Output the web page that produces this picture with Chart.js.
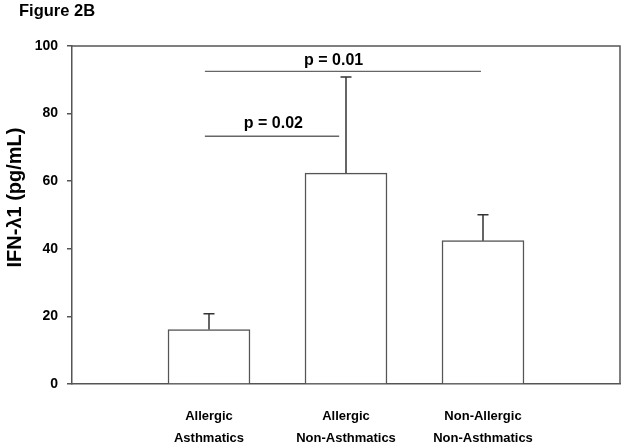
<!DOCTYPE html>
<html>
<head>
<meta charset="utf-8">
<script src="https://cdn.jsdelivr.net/npm/chart.js@4"></script>
<style>
  html, body { margin: 0; padding: 0; background: #fff; overflow: hidden; }
  #wrap { width: 624px; height: 448px; position: relative; }
  canvas { display: block; }
</style>
</head>
<body>
<div id="wrap"><canvas id="figura"></canvas></div>
<script>
const categories = [
  ["Allergic", "Asthmatics"],
  ["Allergic", "Non-Asthmatics"],
  ["Non-Allergic", "Non-Asthmatics"],
];
const means = [16.1, 62.4, 42.4];
const errors = [4.7, 28.4, 7.7];
const yTicks = [0, 20, 40, 60, 80, 100];
// significance brackets (category index units, y in pg/mL)
const comparisons = [
  { from: 0.97, to: 1.95, y: 73.3, label: "p = 0.02", labelX: 1.47, labelY: 75.8 },
  { from: 0.97, to: 2.985, y: 92.5, label: "p = 0.01", labelX: 1.91, labelY: 94.4 },
];

const FONT = "'Liberation Sans', Arial, sans-serif";
const LINE = "#555";

const extras = {
  id: "extras",
  afterDatasetsDraw(chart) {
    const { ctx, chartArea: a, scales: { x, y } } = chart;
    ctx.save();

    // error bars (upper only)
    ctx.strokeStyle = "#333";
    ctx.lineWidth = 1.5;
    means.forEach((m, i) => {
      const px = x.getPixelForValue(i + 1);
      const top = y.getPixelForValue(m + errors[i]);
      ctx.beginPath();
      ctx.moveTo(px, y.getPixelForValue(m));
      ctx.lineTo(px, top);
      ctx.moveTo(px - 5.5, top);
      ctx.lineTo(px + 5.5, top);
      ctx.stroke();
    });

    // brackets + p values
    ctx.strokeStyle = "#666";
    ctx.lineWidth = 1.3;
    ctx.fillStyle = "#000";
    ctx.font = "bold 16px " + FONT;
    ctx.textAlign = "center";
    ctx.textBaseline = "alphabetic";
    comparisons.forEach((c) => {
      const py = y.getPixelForValue(c.y);
      ctx.beginPath();
      ctx.moveTo(x.getPixelForValue(c.from), py);
      ctx.lineTo(x.getPixelForValue(c.to), py);
      ctx.stroke();
      ctx.fillText(c.label, x.getPixelForValue(c.labelX), y.getPixelForValue(c.labelY));
    });

    // frame top and right
    ctx.strokeStyle = LINE;
    ctx.lineWidth = 1.5;
    ctx.beginPath();
    ctx.moveTo(a.left, a.top);
    ctx.lineTo(a.right, a.top);
    ctx.lineTo(a.right, a.bottom);
    ctx.stroke();

    // figure label
    ctx.textAlign = "left";
    ctx.font = "bold 16.5px " + FONT;
    ctx.fillText("Figure 2B", 19, 15.5);

    // y axis title
    ctx.translate(15, 197.5);
    ctx.rotate(-Math.PI / 2);
    ctx.textAlign = "center";
    ctx.textBaseline = "middle";
    ctx.font = "bold 20px " + FONT;
    ctx.fillText("IFN-\u03BB1 (pg/mL)", 0, 0);
    ctx.restore();
  },
};

new Chart(document.getElementById("figura"), {
  type: "bar",
  data: {
    labels: ["", ...categories, ""],
    datasets: [
      {
        data: [null, ...means, null],
        backgroundColor: "#fff",
        borderColor: LINE,
        borderWidth: 1.5,
        barThickness: 82,
      },
    ],
  },
  options: {
    responsive: true,
    maintainAspectRatio: false,
    animation: false,
    layout: { padding: { top: 46, right: 4, left: 0, bottom: 0 } },
    plugins: { legend: { display: false }, tooltip: { enabled: false } },
    scales: {
      x: {
        offset: false,
        grid: { display: true, drawOnChartArea: false, drawTicks: false, tickLength: 0 },
        border: { display: true, color: LINE, width: 1.5 },
        ticks: {
          color: "#000",
          padding: 21,
          maxRotation: 0,
          autoSkip: false,
          font: { family: FONT, size: 13, weight: "bold", lineHeight: "22px" },
        },
        afterFit(s) {
          s.height = 64;
          s.paddingLeft = 0;
          s.paddingRight = 0;
        },
      },
      y: {
        min: 0,
        max: 100,
        afterBuildTicks(s) { s.ticks = yTicks.map((v) => ({ value: v })); },
        grid: { display: true, drawOnChartArea: false, drawTicks: true, tickLength: 5, color: LINE, lineWidth: 1.5 },
        border: { display: true, color: LINE, width: 1.5 },
        ticks: {
          color: "#000",
          padding: 9,
          font: { family: FONT, size: 14, weight: "bold" },
        },
        afterFit(s) { s.width = 72; },
      },
    },
  },
  plugins: [extras],
});
</script>
</body>
</html>
